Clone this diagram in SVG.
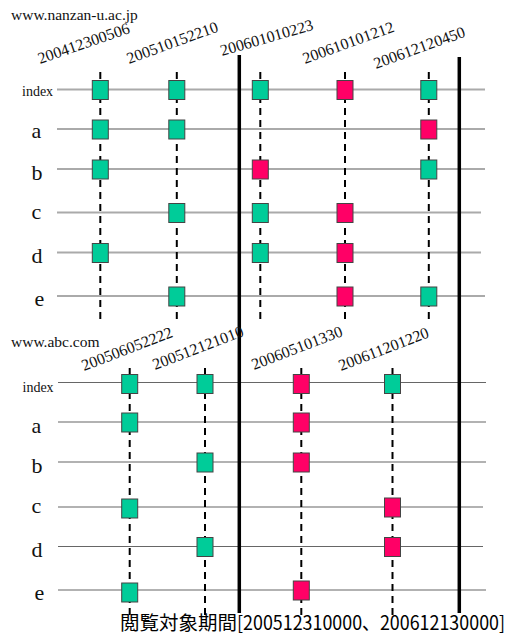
<svg xmlns="http://www.w3.org/2000/svg" width="512" height="635" viewBox="0 0 512 635">
<style>
.bg{fill:#fff}
.rowT{stroke:#aaa;stroke-width:1.8}
.rowB{stroke:#666;stroke-width:1.2}
.col{stroke:#000;stroke-width:2;stroke-dasharray:7 5}
.thick{stroke:#000;stroke-width:3.5}
.g{fill:#00cc99;stroke:#444;stroke-width:1}
.p{fill:#ff0066;stroke:#444;stroke-width:1}
.ts{font-family:"Liberation Serif","Times New Roman",serif;fill:#111}
.ts16{font-size:16px}
.site{font-size:15.5px}
.idx{font-size:14px}
.row{font-size:22px}
.jp{font-family:"Noto Sans CJK JP","Noto Sans CJK SC",sans-serif;font-size:19.5px;fill:#000}
</style>
<defs>
<rect id="bx" x="-8" y="-9" width="16" height="19"/>
</defs>
<rect class="bg" x="0" y="0" width="512" height="635"/>

<g id="connectors">
<line class="rowT" x1="57" y1="89.5" x2="485" y2="89.5"/>
<line class="rowT" x1="57" y1="129" x2="485" y2="129"/>
<line class="rowT" x1="57" y1="169" x2="485" y2="169"/>
<line class="rowT" x1="57" y1="212.5" x2="481" y2="212.5"/>
<line class="rowT" x1="57" y1="252.5" x2="481" y2="252.5"/>
<line class="rowT" x1="57" y1="296" x2="485" y2="296"/>
<line class="rowB" x1="58" y1="382.5" x2="486" y2="382.5"/>
<line class="rowB" x1="58" y1="422" x2="486" y2="422"/>
<line class="rowB" x1="58" y1="462" x2="486" y2="462"/>
<line class="rowB" x1="58" y1="507" x2="483" y2="507"/>
<line class="rowB" x1="58" y1="546.5" x2="483" y2="546.5"/>
<line class="rowB" x1="58" y1="590" x2="486" y2="590"/>
<line class="col" x1="100.3" y1="72" x2="100.3" y2="320"/>
<line class="col" x1="176.8" y1="72" x2="176.8" y2="320"/>
<line class="col" x1="260.3" y1="72" x2="260.3" y2="320"/>
<line class="col" x1="345" y1="72" x2="345" y2="320"/>
<line class="col" x1="428.8" y1="72" x2="428.8" y2="320"/>
<line class="col" x1="129.7" y1="368" x2="129.7" y2="615"/>
<line class="col" x1="205" y1="368" x2="205" y2="615"/>
<line class="col" x1="301.3" y1="368" x2="301.3" y2="615"/>
<line class="col" x1="392.5" y1="368" x2="392.5" y2="615"/>
<line class="thick" x1="239.3" y1="55" x2="239.3" y2="613"/>
<line class="thick" x1="459.3" y1="57" x2="459.3" y2="613"/>
</g>

<g id="labels-top" class="ts">
<text class="site" x="11" y="20">www.nanzan-u.ac.jp</text>
<text class="idx" x="22" y="96">index</text>
<text class="row" x="31.5" y="138">a</text>
<text class="row" x="31.5" y="180">b</text>
<text class="row" x="31.5" y="218.5">c</text>
<text class="row" x="31.5" y="262.5">d</text>
<text class="row" x="34.5" y="306">e</text>
<text class="ts16" transform="translate(40,64) rotate(-19)">200412300506</text>
<text class="ts16" transform="translate(129,64) rotate(-20)">200510152210</text>
<text class="ts16" transform="translate(222,56) rotate(-16)">200601010223</text>
<text class="ts16" transform="translate(305,64) rotate(-20)">200610101212</text>
<text class="ts16" transform="translate(376,69) rotate(-20)">200612120450</text>
</g>

<g id="labels-bottom" class="ts">
<text class="site" x="11" y="347">www.abc.com</text>
<text class="idx" x="22.5" y="391.5">index</text>
<text class="row" x="31.5" y="432.5">a</text>
<text class="row" x="31.5" y="473">b</text>
<text class="row" x="31.5" y="512.5">c</text>
<text class="row" x="31.5" y="556.5">d</text>
<text class="row" x="34.5" y="600">e</text>
<text class="ts16" transform="translate(84,371) rotate(-21)">200506052222</text>
<text class="ts16" transform="translate(155,370) rotate(-21)">200512121010</text>
<text class="ts16" transform="translate(254,370) rotate(-21)">200605101330</text>
<text class="ts16" transform="translate(341,371) rotate(-21)">200611201220</text>
</g>

<g id="n-200412300506-index"><use href="#bx" class="g" x="100.3" y="89.5"/></g>
<g id="n-200412300506-a"><use href="#bx" class="g" x="100.3" y="129"/></g>
<g id="n-200412300506-b"><use href="#bx" class="g" x="100.3" y="169"/></g>
<g id="n-200412300506-d"><use href="#bx" class="g" x="100.3" y="252.5"/></g>
<g id="n-200510152210-index"><use href="#bx" class="g" x="176.8" y="89.5"/></g>
<g id="n-200510152210-a"><use href="#bx" class="g" x="176.8" y="129"/></g>
<g id="n-200510152210-c"><use href="#bx" class="g" x="176.8" y="212.5"/></g>
<g id="n-200510152210-e"><use href="#bx" class="g" x="176.8" y="296"/></g>
<g id="n-200601010223-index"><use href="#bx" class="g" x="260.3" y="89.5"/></g>
<g id="n-200601010223-b"><use href="#bx" class="p" x="260.3" y="169"/></g>
<g id="n-200601010223-c"><use href="#bx" class="g" x="260.3" y="212.5"/></g>
<g id="n-200601010223-d"><use href="#bx" class="g" x="260.3" y="252.5"/></g>
<g id="n-200610101212-index"><use href="#bx" class="p" x="345" y="89.5"/></g>
<g id="n-200610101212-c"><use href="#bx" class="p" x="345" y="212.5"/></g>
<g id="n-200610101212-d"><use href="#bx" class="p" x="345" y="252.5"/></g>
<g id="n-200610101212-e"><use href="#bx" class="p" x="345" y="296"/></g>
<g id="n-200612120450-index"><use href="#bx" class="g" x="428.8" y="89.5"/></g>
<g id="n-200612120450-a"><use href="#bx" class="p" x="428.8" y="129"/></g>
<g id="n-200612120450-b"><use href="#bx" class="g" x="428.8" y="169"/></g>
<g id="n-200612120450-e"><use href="#bx" class="g" x="428.8" y="296"/></g>

<g id="m-200506052222-index"><use href="#bx" class="g" x="129.7" y="383.5"/></g>
<g id="m-200506052222-a"><use href="#bx" class="g" x="129.7" y="422"/></g>
<g id="m-200506052222-c"><use href="#bx" class="g" x="129.7" y="508"/></g>
<g id="m-200506052222-e"><use href="#bx" class="g" x="129.7" y="592"/></g>
<g id="m-200512121010-index"><use href="#bx" class="g" x="205" y="383.5"/></g>
<g id="m-200512121010-b"><use href="#bx" class="g" x="205" y="462"/></g>
<g id="m-200512121010-d"><use href="#bx" class="g" x="205" y="546.5"/></g>
<g id="m-200605101330-index"><use href="#bx" class="p" x="301.3" y="383.5"/></g>
<g id="m-200605101330-a"><use href="#bx" class="p" x="301.3" y="422"/></g>
<g id="m-200605101330-b"><use href="#bx" class="p" x="301.3" y="462"/></g>
<g id="m-200605101330-e"><use href="#bx" class="p" x="301.3" y="590"/></g>
<g id="m-200611201220-index"><use href="#bx" class="g" x="392.5" y="383.5"/></g>
<g id="m-200611201220-c"><use href="#bx" class="p" x="392.5" y="507"/></g>
<g id="m-200611201220-d"><use href="#bx" class="p" x="392.5" y="546.5"/></g>

<g id="caption">
<text class="jp" x="120" y="630"><tspan>閲覧対象期間</tspan><tspan textLength="268" lengthAdjust="spacingAndGlyphs">[200512310000、200612130000]</tspan></text>
</g>
</svg>
